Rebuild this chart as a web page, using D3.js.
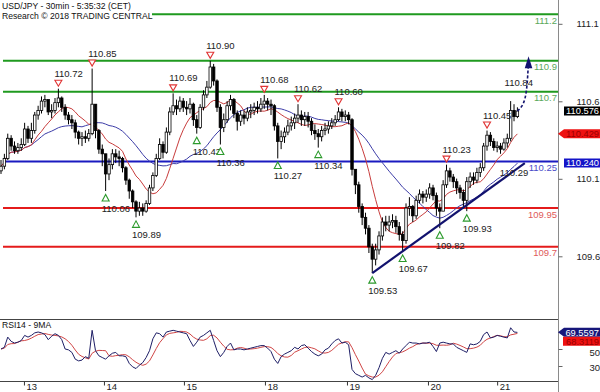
<!DOCTYPE html>
<html>
<head>
<meta charset="utf-8">
<script src="https://cdn.jsdelivr.net/npm/d3@7"></script>
<style>
  body { margin: 0; background: #fff; }
  svg { display: block; }
</style>
</head>
<body>
<div id="chart"></div>
<script>
// hourly bars (two source bars per bar)
const closes = [
  110.22, 110.27, 110.40, 110.35, 110.32, 110.34, 110.36, 110.46, 110.40, 110.45,
  110.55, 110.58, 110.64, 110.65, 110.57, 110.58, 110.63, 110.66, 110.60, 110.55,
  110.52, 110.50, 110.44, 110.40, 110.41, 110.40, 110.43, 110.62, 110.45, 110.33,
  110.30, 110.17, 110.23, 110.30, 110.28, 110.27, 110.21, 110.13, 110.06, 109.99,
  109.93, 109.95, 109.93, 109.98, 110.08, 110.16, 110.27, 110.36, 110.31, 110.44,
  110.57, 110.61, 110.59, 110.64, 110.60, 110.59, 110.62, 110.52, 110.47, 110.60,
  110.68, 110.73, 110.86, 110.77, 110.60, 110.47, 110.52, 110.61, 110.65, 110.56,
  110.51, 110.55, 110.53, 110.57, 110.58, 110.60, 110.59, 110.62, 110.64, 110.62,
  110.61, 110.48, 110.38, 110.41, 110.44, 110.48, 110.50, 110.53, 110.55, 110.52,
  110.54, 110.51, 110.45, 110.43, 110.41, 110.45, 110.46, 110.48, 110.50, 110.52,
  110.57, 110.54, 110.55, 110.52, 110.20, 110.10, 109.96, 109.89, 109.82, 109.70,
  109.62, 109.68, 109.77, 109.86, 109.84, 109.86, 109.87, 109.83, 109.78, 109.74,
  109.95, 109.96, 109.90, 110.00, 110.04, 110.02, 110.04, 110.08, 110.03, 109.95,
  109.93, 110.10, 110.19, 110.15, 110.12, 110.08, 110.05, 110.00, 110.12, 110.15,
  110.13, 110.18, 110.21, 110.35, 110.42, 110.38, 110.34, 110.35, 110.33, 110.37,
  110.40, 110.58, 110.54, 110.576
];
const highs = [
  110.26, 110.30, 110.43, 110.42, 110.38, 110.37, 110.40, 110.50, 110.48, 110.50,
  110.57, 110.61, 110.67, 110.68, 110.64, 110.62, 110.66, 110.72, 110.67, 110.62,
  110.57, 110.55, 110.52, 110.45, 110.44, 110.45, 110.46, 110.85, 110.62, 110.46,
  110.36, 110.30, 110.27, 110.33, 110.33, 110.32, 110.28, 110.22, 110.14, 110.07,
  110.00, 109.99, 109.98, 110.00, 110.10, 110.18, 110.30, 110.40, 110.38, 110.47,
  110.60, 110.69, 110.65, 110.67, 110.66, 110.64, 110.66, 110.63, 110.55, 110.62,
  110.71, 110.77, 110.90, 110.88, 110.78, 110.62, 110.56, 110.64, 110.68, 110.66,
  110.58, 110.58, 110.58, 110.60, 110.62, 110.63, 110.64, 110.66, 110.68, 110.66,
  110.65, 110.62, 110.50, 110.45, 110.47, 110.52, 110.54, 110.56, 110.62, 110.58,
  110.57, 110.57, 110.53, 110.49, 110.46, 110.48, 110.50, 110.51, 110.53, 110.55,
  110.60, 110.59, 110.58, 110.57, 110.53, 110.20, 110.12, 109.98, 109.92, 109.84,
  109.72, 109.72, 109.80, 109.89, 109.90, 109.90, 109.91, 109.90, 109.86, 109.80,
  109.98, 110.02, 109.97, 110.03, 110.07, 110.06, 110.07, 110.11, 110.10, 110.05,
  109.98, 110.13, 110.23, 110.21, 110.17, 110.14, 110.10, 110.07, 110.15, 110.18,
  110.18, 110.21, 110.24, 110.37, 110.45, 110.44, 110.40, 110.38, 110.37, 110.40,
  110.43, 110.64, 110.62, 110.60
];
const lows = [
  110.17, 110.20, 110.26, 110.32, 110.30, 110.30, 110.32, 110.35, 110.37, 110.37,
  110.43, 110.52, 110.56, 110.60, 110.55, 110.53, 110.56, 110.60, 110.57, 110.52,
  110.49, 110.46, 110.40, 110.36, 110.35, 110.37, 110.38, 110.42, 110.40, 110.30,
  110.22, 110.06, 110.13, 110.20, 110.24, 110.22, 110.18, 110.10, 110.01, 109.95,
  109.89, 109.90, 109.90, 109.92, 109.97, 110.06, 110.15, 110.26, 110.27, 110.30,
  110.42, 110.55, 110.55, 110.57, 110.57, 110.55, 110.56, 110.48, 110.43, 110.46,
  110.58, 110.66, 110.72, 110.74, 110.57, 110.36, 110.44, 110.50, 110.58, 110.53,
  110.45, 110.48, 110.49, 110.51, 110.53, 110.55, 110.56, 110.57, 110.59, 110.58,
  110.55, 110.45, 110.27, 110.33, 110.37, 110.42, 110.45, 110.46, 110.50, 110.48,
  110.48, 110.47, 110.42, 110.39, 110.34, 110.38, 110.42, 110.43, 110.46, 110.48,
  110.51, 110.51, 110.51, 110.49, 110.16, 110.04, 109.92, 109.84, 109.78, 109.66,
  109.53, 109.58, 109.65, 109.74, 109.80, 109.80, 109.82, 109.79, 109.74, 109.67,
  109.72, 109.90, 109.86, 109.88, 109.98, 109.98, 109.99, 110.01, 110.00, 109.90,
  109.82, 109.93, 110.08, 110.12, 110.08, 110.04, 110.01, 109.95, 109.93, 110.08,
  110.10, 110.11, 110.15, 110.19, 110.32, 110.35, 110.32, 110.31, 110.30, 110.32,
  110.34, 110.38, 110.51, 110.53
];
const rsi = [
  50, 52, 64, 59, 57, 58, 60, 66, 64, 66,
  69, 70, 69, 67, 61, 65, 68, 66, 61, 50,
  49, 46, 38, 36, 37, 41, 39, 72, 48, 42,
  40, 38, 42, 45, 46, 42, 42, 41, 33, 29,
  27, 31, 34, 40, 48, 62, 69, 68, 64, 70,
  71, 72, 71, 70, 69, 68, 60, 53, 58, 64,
  66, 69, 72, 60, 48, 41, 46, 53, 57, 49,
  50, 50, 49, 50, 51, 52, 53, 54, 54, 51,
  47, 38, 33, 41, 44, 46, 48, 52, 50, 54,
  55, 51, 47, 44, 42, 44, 49, 51, 56, 60,
  62, 57, 58, 55, 26, 21, 19, 17, 19, 16,
  14, 19, 28, 39, 46, 44, 46, 48, 45, 50,
  54, 58, 57, 57, 56, 57, 57, 58, 53, 47,
  57, 58, 57, 56, 56, 52, 50, 48, 46, 56,
  55, 56, 59, 67, 70, 63, 64, 66, 65, 64,
  63, 75, 70, 69.5597
];

const dayLabels = ["13", "14", "15", "18", "19", "20", "21"];
const dayTicks = [6.8, 30.5, 54.2, 78.2, 102.5, 126.5, 147];   // bar index of each label

const resistances = [111.2, 110.9, 110.7];
const pivots = [110.25];
const supports = [109.95, 109.7];
const priceTicks = [111.1, 110.6, 110.1, 109.6];
const rsiTicks = [50, 30];

const peakBars = [17, 27, 51, 62, 78, 88, 100, 132, 144];
const troughBars = [31, 40, 58, 65, 82, 94, 110, 119, 130, 138];

const trendPoints = [[110, 109.53], [155.2, 110.24]];
const arrowPoints = [[153, 110.576], [155.6, 110.63], [156.2, 110.86]];
const notes = [
  { text: "110.84", bar: 149.2, price: 110.74 },
  { text: "110.29", bar: 147.8, price: 110.16 }
];

const font = '"Liberation Sans Narrow", "Liberation Sans", Arial, sans-serif';
const titleFont = '"Liberation Sans", Arial, sans-serif';
const W = 600, H = 392, plotRight = 558;

const sma = (arr, n) => arr.map((d, i) => d3.mean(arr.slice(Math.max(0, i - n + 1), i + 1)));
// 20 and 50 period averages on 30min = 10 and 25 hourly bars
const maFast = sma(closes, 10);
const maSlow = sma(closes, 25);
const rsiMa = sma(rsi, 5);

const bars = closes.map((c, i) => ({
  i, c, h: highs[i], l: lows[i], o: i === 0 ? c - 0.03 : closes[i - 1]
}));

const svg = d3.select("#chart").append("svg")
  .attr("width", W).attr("height", H)
  .style("font-family", font);

const x = d3.scaleLinear().domain([0, closes.length - 1]).range([1, 517.4]);
const y = d3.scaleLinear().domain([109.7, 111.2]).range([246.8, 14.3]);
const yR = d3.scaleLinear().domain([30, 50]).range([366, 349]);

// level lines
function level(vals, color, textColor) {
  vals.forEach((v) => {
    svg.append("line")
      .attr("x1", 3).attr("x2", plotRight)
      .attr("y1", y(v)).attr("y2", y(v))
      .attr("stroke", color).attr("stroke-width", 2);
    svg.append("text")
      .attr("x", plotRight - 1).attr("y", y(v) + 9.5)
      .attr("text-anchor", "end")
      .attr("font-size", 9.5)
      .attr("fill", textColor)
      .text(String(v));
  });
}
level(resistances, "#1f9a1f", "#5aa85a");
level(pivots, "#1a1ac0", "#4a4ac8");
level(supports, "#e41b1b", "#e05a5a");

// moving averages
const line = (arr, sy) => d3.line().x((d, i) => x(i)).y((d) => sy(d))(arr);
svg.append("path").attr("d", line(maSlow, y))
  .attr("fill", "none").attr("stroke", "#3d3da8").attr("stroke-width", 1);
svg.append("path").attr("d", line(maFast, y))
  .attr("fill", "none").attr("stroke", "#c83c3c").attr("stroke-width", 1);

// candles
const bw = 2.5;
const g = svg.append("g");
g.selectAll("line.wick").data(bars).enter().append("line")
  .attr("x1", (d) => x(d.i)).attr("x2", (d) => x(d.i))
  .attr("y1", (d) => y(d.h)).attr("y2", (d) => y(d.l))
  .attr("stroke", "#000").attr("stroke-width", 1);
g.selectAll("rect").data(bars).enter().append("rect")
  .attr("x", (d) => x(d.i) - bw / 2)
  .attr("width", bw)
  .attr("y", (d) => y(Math.max(d.o, d.c)))
  .attr("height", (d) => Math.max(1, Math.abs(y(d.o) - y(d.c))))
  .attr("fill", (d) => (d.c >= d.o ? "#fff" : "#000"))
  .attr("stroke", "#000").attr("stroke-width", 0.8);

// trend line and projection
svg.append("path")
  .attr("d", d3.line().x((d) => x(d[0])).y((d) => y(d[1]))(trendPoints))
  .attr("stroke", "#12126e").attr("stroke-width", 2.2).attr("fill", "none");
svg.append("path")
  .attr("d", d3.line().x((d) => x(d[0])).y((d) => y(d[1])).curve(d3.curveBasis)(arrowPoints))
  .attr("stroke", "#12126e").attr("stroke-width", 1.6)
  .attr("stroke-dasharray", "3,2").attr("fill", "none");
const tip = [x(156.3), y(110.93)];
svg.append("path")
  .attr("d", `M${tip[0]},${tip[1]} L${tip[0] - 3.8},${tip[1] + 12} L${tip[0] + 3.8},${tip[1] + 12} Z`)
  .attr("fill", "#12126e");

// pivot markers
const pk = svg.append("g").attr("font-size", 9.5).attr("fill", "#222");
peakBars.forEach((i) => {
  const cx = x(i), cy = y(highs[i]);
  pk.append("path")
    .attr("d", `M${cx - 3.5},${cy - 8.5} L${cx + 3.5},${cy - 8.5} L${cx},${cy - 2.5} Z`)
    .attr("fill", "#fff").attr("stroke", "#e03434").attr("stroke-width", 1.1);
  pk.append("text").attr("x", cx - 4).attr("y", cy - 12).text(highs[i].toFixed(2));
});
troughBars.forEach((i) => {
  const cx = x(i), cy = y(lows[i]);
  pk.append("path")
    .attr("d", `M${cx - 3.5},${cy + 10} L${cx + 3.5},${cy + 10} L${cx},${cy + 3.5} Z`)
    .attr("fill", "#fff").attr("stroke", "#2c9a2c").attr("stroke-width", 1.1);
  pk.append("text").attr("x", cx - 4).attr("y", cy + 21).text(lows[i].toFixed(2));
});
notes.forEach((n) => {
  pk.append("text").attr("x", x(n.bar)).attr("y", y(n.price)).text(n.text);
});

// title with its white backing
svg.append("rect").attr("x", 0).attr("y", 0).attr("width", 152).attr("height", 21).attr("fill", "#fff");
svg.append("text").attr("x", 2).attr("y", 9).attr("font-size", 8.6).attr("fill", "#111")
  .style("font-family", titleFont)
  .text("USD/JPY - 30min - 5:35:32 (CET)");
svg.append("text").attr("x", 2).attr("y", 19).attr("font-size", 8.6).attr("fill", "#111")
  .style("font-family", titleFont)
  .text("Research \u00a9 2018 TRADING CENTRAL");

// RSI panel
svg.append("line").attr("x1", 0).attr("x2", plotRight).attr("y1", 319.5).attr("y2", 319.5)
  .attr("stroke", "#444");
svg.append("line").attr("x1", 0).attr("x2", plotRight).attr("y1", 381.5).attr("y2", 381.5)
  .attr("stroke", "#444");
svg.append("text").attr("x", 2).attr("y", 328).attr("font-size", 8.6).attr("fill", "#111")
  .style("font-family", titleFont)
  .text("RSI14 - 9MA");
svg.append("path").attr("d", line(rsiMa, yR))
  .attr("fill", "none").attr("stroke", "#d04646").attr("stroke-width", 1);
svg.append("path").attr("d", line(rsi, yR))
  .attr("fill", "none").attr("stroke", "#1e1e66").attr("stroke-width", 1);

// right axis line
svg.append("line").attr("x1", plotRight + 0.5).attr("x2", plotRight + 0.5)
  .attr("y1", 0).attr("y2", H).attr("stroke", "#8a8a8a");

// price axis: this feed prints its labels ~6px above the price they name
const yLab = y.copy().range(y.range().map((v) => v - 6));
const ax = svg.append("g").attr("transform", `translate(${plotRight + 0.5},0)`)
  .call(d3.axisRight(yLab).tickValues(priceTicks).tickSize(4).tickPadding(14).tickFormat(d3.format(".1f")));
ax.select(".domain").remove();
ax.selectAll("text").attr("font-size", 9.5).attr("fill", "#222").style("font-family", font);
ax.selectAll("line").attr("stroke", "#666");

const axR = svg.append("g").attr("transform", `translate(${plotRight + 0.5},0)`)
  .call(d3.axisRight(yR).tickValues(rsiTicks).tickSize(4).tickPadding(27));
axR.select(".domain").remove();
// the 50 label sits just under the value tags
axR.selectAll("text").attr("font-size", 9.5).attr("fill", "#222")
  .attr("dy", (d) => (d === 50 ? "0.72em" : "0.45em"))
  .style("font-family", font);
axR.selectAll("line").attr("stroke", "#666");

// time axis
const axB = svg.append("g").attr("transform", "translate(0,381.5)")
  .call(d3.axisBottom(x).tickValues(dayTicks).tickSize(4)
    .tickFormat((d, i) => dayLabels[i]));
axB.select(".domain").remove();
axB.selectAll("line").attr("stroke", "#333");
axB.selectAll("text").attr("font-size", 9.5).attr("fill", "#222")
  .attr("text-anchor", "start").attr("x", 2).attr("y", 2).attr("dy", "0.71em")
  .style("font-family", font);

// last value tags
function tag(label, cy, bg, fg, arrow, x0) {
  const h = 9, g2 = svg.append("g");
  const d = arrow
    ? `M${plotRight},${cy} L${plotRight + 6},${cy - h / 2} L${W},${cy - h / 2} L${W},${cy + h / 2} L${plotRight + 6},${cy + h / 2} Z`
    : `M${x0},${cy - h / 2} L${W},${cy - h / 2} L${W},${cy + h / 2} L${x0},${cy + h / 2} Z`;
  g2.append("path").attr("d", d).attr("fill", bg);
  g2.append("text").attr("x", W - 1).attr("y", cy + 3.3).attr("text-anchor", "end")
    .attr("font-size", 9.3).attr("fill", fg).text(label);
}
const last = (a) => a[a.length - 1];
tag(last(closes).toFixed(3), y(last(closes)), "#000", "#fff", false, 564);
tag(last(maFast).toFixed(3), y(last(maFast)), "#ee1111", "#9a0000", true);
tag(last(maSlow).toFixed(3), y(last(maSlow)), "#1414c8", "#fff", false, 564);
tag(last(rsi).toFixed(4), yR(last(rsi)), "#16167a", "#fff", true);
// second RSI tag is pushed down below the first so they do not overlap
tag(last(rsiMa).toFixed(4), yR(last(rsi)) + 9, "#ee1111", "#9a0000", false, 563);
</script>
</body>
</html>
